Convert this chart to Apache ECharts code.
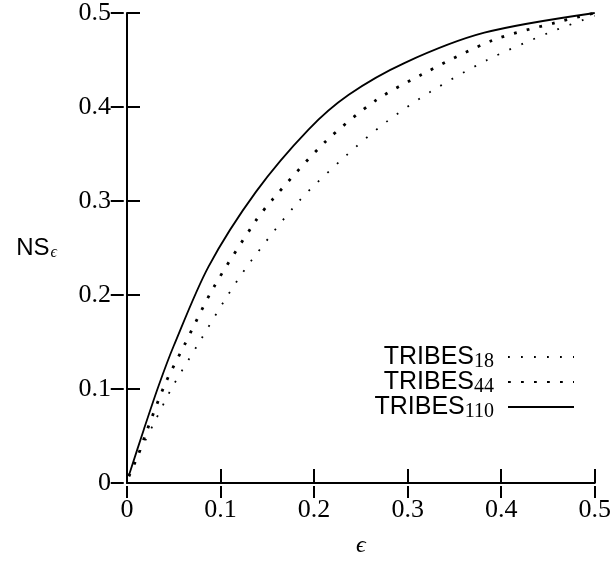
<!DOCTYPE html>
<html>
<head>
<meta charset="utf-8">
<script src="https://cdn.jsdelivr.net/npm/echarts@6/dist/echarts.min.js"></script>
<style>
  html, body { margin: 0; background: #fff; }
  #chart { width: 614px; height: 563px; }
</style>
</head>
<body>
<div id="chart"></div>
<script>
// values
const eps18 = [0.002, 0.017, 0.030, 0.049, 0.078, 0.106, 0.131, 0.184, 0.235, 0.277, 0.324, 0.385, 0.451, 0.5];
const ns18  = [0.008, 0.040, 0.066, 0.103, 0.151, 0.197, 0.234, 0.300, 0.349, 0.384, 0.416, 0.450, 0.479, 0.497];

const eps44 = [0.002, 0.012, 0.021, 0.041, 0.0605, 0.092, 0.137, 0.155, 0.212, 0.266, 0.314, 0.391, 0.459, 0.5];
const ns44  = [0.007, 0.030, 0.055, 0.106, 0.145, 0.207, 0.278, 0.301, 0.363, 0.407, 0.434, 0.471, 0.490, 0.5];

const eps110 = [0.002, 0.018, 0.034, 0.050, 0.087, 0.138, 0.194, 0.237, 0.297, 0.382, 0.5];
const ns110  = [0.008, 0.057, 0.104, 0.146, 0.230, 0.310, 0.376, 0.413, 0.447, 0.479, 0.5];

const tickValues = [0, 0.1, 0.2, 0.3, 0.4, 0.5];
const seriesNames = ["TRIBES18", "TRIBES44", "TRIBES110"];

const serif = "'Liberation Serif', 'DejaVu Serif', serif";
const sans = "'Liberation Sans', 'DejaVu Sans', sans-serif";

function pairs(xs, ys) {
  return xs.map((x, i) => [x, ys[i]]);
}

const chart = echarts.init(document.getElementById("chart"), null, { renderer: "canvas" });

const axisLine = { show: true, onZero: false, lineStyle: { color: "#000", width: 2 } };
const tickMin = tickValues[0];
const tickMax = tickValues[tickValues.length - 1];
const tickStep = tickValues[1] - tickValues[0];

const legendRich = {
  a: { fontFamily: sans, fontSize: 25, color: "#000", lineHeight: 24 },
  b: { fontFamily: serif, fontSize: 20, color: "#000", lineHeight: 18, padding: [10, 9, 0, 0] },
};

function legendAt(name, top) {
  return {
    data: [name],
    right: 34,
    top: top,
    align: "right",
    selectedMode: false,
    itemWidth: 66,
    itemHeight: 14,
    itemStyle: { color: "transparent", borderWidth: 0, opacity: 0 },
    formatter: (n) => "{a|TRIBES}{b|" + n.slice(6) + "}",
    textStyle: { rich: legendRich },
  };
}

chart.setOption({
  animation: false,
  backgroundColor: "#fff",
  grid: { left: 127, right: 16, top: 10, bottom: 80 },
  legend: [legendAt(seriesNames[0], 337), legendAt(seriesNames[1], 362), legendAt(seriesNames[2], 387)],
  xAxis: [
    {
      type: "value",
      min: tickMin,
      max: tickMax,
      interval: tickStep,
      axisLine: axisLine,
      axisTick: { show: true, inside: true, length: 14, lineStyle: { color: "#000", width: 2 } },
      axisLabel: { color: "#000", fontFamily: serif, fontSize: 26, margin: 14 },
      splitLine: { show: false },
      name: "ϵ",
      nameLocation: "middle",
      nameGap: 51,
      nameTextStyle: { fontFamily: serif, fontStyle: "italic", fontSize: 24, color: "#000" },
    },
    {
      type: "value",
      position: "top",
      offset: -473,
      min: tickMin,
      max: tickMax,
      interval: tickStep,
      axisLine: { show: false, onZero: false },
      axisTick: { show: true, inside: true, length: 12, lineStyle: { color: "#000", width: 2 } },
      axisLabel: { show: false },
      splitLine: { show: false },
    },
  ],
  yAxis: [
    {
      type: "value",
      min: tickMin,
      max: tickMax,
      interval: tickStep,
      axisLine: axisLine,
      axisTick: { show: true, inside: true, length: 13, lineStyle: { color: "#000", width: 2 } },
      axisLabel: { color: "#000", fontFamily: serif, fontSize: 26, margin: 16 },
      splitLine: { show: false },
      name: "{n|NS}{e|ϵ}",
      nameLocation: "middle",
      nameRotate: 0,
      nameGap: 70,
      nameTextStyle: {
        rich: {
          n: { fontFamily: sans, fontSize: 24, color: "#000", lineHeight: 24 },
          e: { fontFamily: serif, fontStyle: "italic", fontSize: 16, color: "#000", lineHeight: 14, padding: [10, 0, 0, 1] },
        },
      },
    },
    {
      type: "value",
      position: "right",
      offset: -471,
      min: tickMin,
      max: tickMax,
      interval: tickStep,
      axisLine: { show: false, onZero: false },
      axisTick: { show: true, inside: true, length: 13, lineStyle: { color: "#000", width: 2 } },
      axisLabel: { show: false },
      splitLine: { show: false },
    },
  ],
  series: [
    {
      name: seriesNames[0],
      type: "line",
      smooth: 0.3,
      symbol: "none",
      data: pairs(eps18, ns18),
      lineStyle: { color: "#000", width: 1.8, type: [1.8, 11.2], cap: "butt" },
    },
    {
      name: seriesNames[1],
      type: "line",
      smooth: 0.3,
      symbol: "none",
      data: pairs(eps44, ns44),
      lineStyle: { color: "#000", width: 2.8, type: [2.8, 10.2], cap: "butt" },
    },
    {
      name: seriesNames[2],
      type: "line",
      smooth: 0.3,
      symbol: "none",
      data: pairs(eps110, ns110),
      lineStyle: { color: "#000", width: 1.8, type: "solid" },
    },
  ],
});
</script>
</body>
</html>
